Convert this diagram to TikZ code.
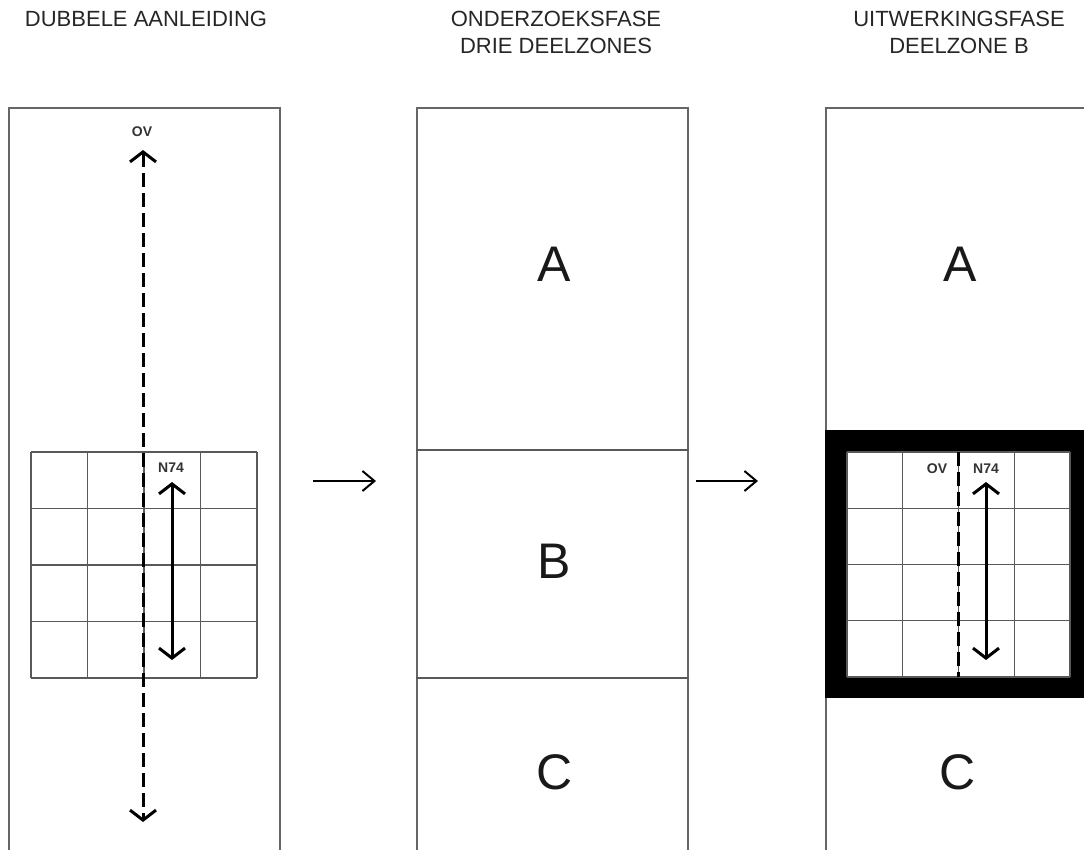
\documentclass[tikz,border=0pt]{standalone}
\usepackage{fontspec}
\setmainfont{Liberation Sans}
\usetikzlibrary{arrows.meta}

\begin{document}
\begin{tikzpicture}[
  x=1pt, y=-1pt,
  panel/.style={draw=black!60, line width=1.5pt, minimum width=271pt, minimum height=800pt, anchor=north west, inner sep=0pt},
  title/.style={align=center, text=black!85, font=\fontsize{22}{27}\selectfont},
  zone/.style={font=\fontsize{50}{50}\selectfont, text=black!90},
  tag/.style={font=\bfseries\fontsize{14}{14}\selectfont, text=black!80, inner sep=1pt},
  gridline/.style={draw=black!65, line width=1.3pt},
  road/.style={line width=3pt, {Straight Barb[length=10pt,width=26pt]}-{Straight Barb[length=10pt,width=26pt]}},
  ovline/.style={line width=3pt, dash pattern=on 14pt off 6pt},
  flow/.style={line width=2pt, -{Straight Barb[length=12pt,width=20pt]}},
]
  \useasboundingbox (0,0) rectangle (1084,849);
  \clip (0,0) rectangle (1084,849);

  % titles
  \node[title] (tone) at (146,19) {DUBBELE AANLEIDING};
  \node[title] (ttwo) at (556,32) {ONDERZOEKSFASE\\DRIE DEELZONES};
  \node[title] (tthree) at (959,32) {UITWERKINGSFASE\\DEELZONE B};

  % panels
  \node[panel] (pone) at (8,107) {};
  \node[panel] (ptwo) at (416,107) {};
  \node[panel] (pthree) at (825,107) {};

  % panel 1: grid, OV and N74
  \foreach \i in {0,...,4} {
    \draw[gridline] (31+56.5*\i,452) -- ++(0,226);
    \draw[gridline] (31,452+56.5*\i) -- ++(226,0);
  }
  \node[tag] (ovone) at (142,132) {OV};
  \coordinate (ovoneN) at (143,150);
  \coordinate (ovoneS) at (143,822);
  \draw[ovline, road] (ovoneN) -- (ovoneS);
  \node[tag] (none) at (171,468) {N74};
  \coordinate (noneN) at (172,482);
  \coordinate (noneS) at (172,660);
  \draw[road] (noneN) -- (noneS);

  % panel 2: three zones
  \draw[gridline] (ptwo.west |- 0,450) -- (ptwo.east |- 0,450);
  \draw[gridline] (ptwo.west |- 0,678) -- (ptwo.east |- 0,678);
  \node[zone] (za) at (554,264) {A};
  \node[zone] (zb) at (554,561) {B};
  \node[zone] (zc) at (555,772) {C};

  % panel 3: zone B worked out
  \node[zone] (zathree) at (960,264) {A};
  \node[zone] (zcthree) at (958,772) {C};
  \draw[line width=22pt] (835.5,441) rectangle (1081,687);
  \foreach \i in {0,...,4} {
    \draw[gridline] (847+55.75*\i,452) -- ++(0,225);
    \draw[gridline] (847,452+56.25*\i) -- ++(223,0);
  }
  \coordinate (ovthreeN) at (958,452);
  \coordinate (ovthreeS) at (958,677);
  \draw[ovline] (ovthreeN) -- (ovthreeS);
  \node[tag] (ovthree) at (937,469) {OV};
  \node[tag] (nthree) at (986,469) {N74};
  \coordinate (nthreeN) at (986,482);
  \coordinate (nthreeS) at (986,660);
  \draw[road] (nthreeN) -- (nthreeS);

  % arrows between panels
  \coordinate (fa) at (313,481);
  \coordinate (fb) at (376,481);
  \coordinate (fc) at (696,481);
  \coordinate (fd) at (758,481);
  \draw[flow] (fa) -- (fb);
  \draw[flow] (fc) -- (fd);
\end{tikzpicture}
\end{document}
